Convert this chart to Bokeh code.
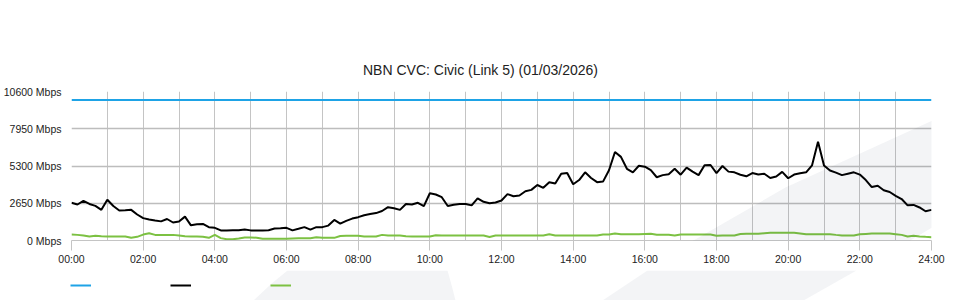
from bokeh.plotting import figure
from bokeh.layouts import column
from bokeh.models import Range1d, FixedTicker, Legend, LegendItem, PolyAnnotation, Label
from bokeh.embed import file_html
from bokeh.resources import INLINE

TITLE = "NBN CVC: Civic (Link 5) (01/03/2026)"

# time axis: hours, one sample every 10 minutes (00:00 .. 24:00)
hours = [i / 6 for i in range(145)]

x_ticks = [0, 2, 4, 6, 8, 10, 12, 14, 16, 18, 20, 22, 24]
x_tick_labels = ["00:00", "02:00", "04:00", "06:00", "08:00", "10:00", "12:00",
                 "14:00", "16:00", "18:00", "20:00", "22:00", "24:00"]
y_ticks = [0, 2650, 5300, 7950, 10600]
y_tick_labels = ["0 Mbps", "2650 Mbps", "5300 Mbps", "7950 Mbps", "10600 Mbps"]

capacity_mbps = 10000

traffic_mbps = [
    2680, 2560, 2820, 2600, 2460, 2180,   # 00
    2900, 2450, 2130, 2150, 2180, 1850,   # 01
    1590, 1490, 1420, 1360, 1530, 1280,   # 02
    1350, 1700, 1080, 1150, 1180, 950,    # 03
    900, 720, 720, 730, 730, 780,         # 04
    720, 710, 720, 730, 850, 870,         # 05
    900, 720, 830, 950, 770, 950,         # 06
    950, 1060, 1460, 1200, 1400, 1560,    # 07
    1660, 1800, 1880, 1950, 2100, 2370,   # 08
    2300, 2180, 2600, 2560, 2680, 2440,   # 09
    3360, 3270, 3080, 2450, 2550, 2600,   # 10
    2600, 2500, 3000, 2750, 2650, 2700,   # 11
    2850, 3300, 3150, 3200, 3500, 3600,   # 12
    3950, 3750, 4150, 4050, 4750, 4800,   # 13
    4000, 4300, 4850, 4450, 4150, 4190,   # 14
    5000, 6300, 5950, 5100, 4850, 5320,   # 15
    5250, 5000, 4500, 4650, 4720, 5100,   # 16
    4680, 5180, 4900, 4650, 5350, 5370,   # 17
    4800, 5300, 4900, 4850, 4680, 4570,   # 18
    4800, 4690, 4750, 4450, 4550, 4880,   # 19
    4430, 4690, 4780, 4850, 5350, 7030,   # 20
    5330, 4980, 4830, 4650, 4750, 4850,   # 21
    4690, 4300, 3800, 3900, 3580, 3450,   # 22
    3180, 2950, 2500, 2530, 2350, 2080,   # 23
    2180,                                 # 24
]

upload_mbps = [
    430, 400, 355, 290, 330, 300,         # 00
    284, 284, 284, 284, 190, 260,         # 01
    420, 520, 400, 400, 400, 400,         # 02
    360, 300, 284, 284, 260, 190,         # 03
    400, 170, 95, 95, 150, 213,           # 04
    213, 200, 118, 118, 118, 118,         # 05
    118, 150, 166, 166, 166, 230,         # 06
    189, 189, 189, 320, 331, 331,         # 07
    331, 284, 284, 284, 400, 355,         # 08
    355, 355, 300, 284, 284, 284,         # 09
    284, 378, 355, 355, 355, 355,         # 10
    355, 355, 355, 355, 250, 355,         # 11
    355, 355, 355, 355, 355, 355,         # 12
    355, 355, 440, 355, 355, 355,         # 13
    355, 355, 355, 355, 355, 426,         # 14
    426, 497, 450, 450, 450, 450,         # 15
    470, 480, 402, 402, 402, 360,         # 16
    426, 426, 426, 426, 426, 426,         # 17
    340, 355, 355, 360, 460, 473,         # 18
    473, 473, 520, 544, 544, 544,         # 19
    544, 544, 500, 450, 450, 450,         # 20
    450, 450, 400, 355, 355, 355,         # 21
    440, 470, 497, 497, 497, 497,         # 22
    450, 400, 284, 331, 284, 260,         # 23
    237,                                  # 24
]

BLUE = "#1ea3e6"
BLACK = "#000000"
GREEN = "#7cc142"
FONT = "Liberation Sans"
WM_COLOR = "#0f234b"
WM_ALPHA = 0.05


def strip(height):
    s = figure(width=960, height=height, frame_width=960, frame_height=height,
               output_backend="svg", toolbar_location=None,
               x_range=Range1d(0, 1), y_range=Range1d(0, 1),
               min_border=0, x_axis_location=None, y_axis_location=None)
    s.xgrid.visible = False
    s.ygrid.visible = False
    s.outline_line_color = None
    s.background_fill_color = "white"
    s.border_fill_color = "white"
    return s


def watermark(fig, xs, ys):
    fig.add_layout(PolyAnnotation(xs=xs, ys=ys, xs_units="canvas", ys_units="canvas",
                                  fill_color=WM_COLOR, fill_alpha=WM_ALPHA, line_alpha=0))


# ---- title strip ----
t = strip(80)
t.add_layout(Label(x=480, y=69, x_units="canvas", y_units="canvas", text=TITLE,
                   text_align="center", text_baseline="middle",
                   text_font=FONT, text_font_size="14px", text_color="#222222"))

# ---- main chart ----
p = figure(width=960, height=190, frame_width=860, frame_height=149,
           output_backend="svg", toolbar_location=None,
           x_range=Range1d(0, 24), y_range=Range1d(0, 10600),
           min_border_left=70, min_border_right=30, min_border_top=11,
           min_border_bottom=30)

p.outline_line_color = None
p.background_fill_color = "white"
p.border_fill_color = "white"

# faint decorative watermark (translucent so that text and lines show through)
watermark(p, [960, 932, 785, 693, 647, 856, 910, 960],
          [25, 40, 107, 160, 190, 190, 160, 130])
watermark(p, [287, 310, 345, 380, 415, 440, 447],
          [190, 175, 163, 160, 162, 185, 190])

# grids
p.xgrid.ticker = FixedTicker(ticks=list(range(25)))
p.xgrid.grid_line_color = "#c4c4c4"
p.xgrid.grid_line_width = 1
p.ygrid.ticker = FixedTicker(ticks=y_ticks)
p.ygrid.grid_line_color = "#bdbdbd"
p.ygrid.grid_line_width = 1.6

# x axis
p.xaxis.ticker = FixedTicker(ticks=x_ticks)
p.xaxis.major_label_overrides = {t_: l for t_, l in zip(x_ticks, x_tick_labels)}
p.xaxis.axis_line_color = "#c4c4c4"
p.xaxis.major_tick_line_color = "#c4c4c4"
p.xaxis.major_tick_out = 10
p.xaxis.major_tick_in = 0
p.xaxis.minor_tick_line_color = None
p.xaxis.major_label_standoff = 2
p.xaxis.major_label_text_font = FONT
p.xaxis.major_label_text_font_size = "10.5px"
p.xaxis.major_label_text_color = "#222222"

# y axis
p.yaxis.ticker = FixedTicker(ticks=y_ticks)
p.yaxis.major_label_overrides = {t_: l for t_, l in zip(y_ticks, y_tick_labels)}
p.yaxis.axis_line_color = None
p.yaxis.major_tick_line_color = None
p.yaxis.minor_tick_line_color = None
p.yaxis.major_tick_out = 0
p.yaxis.major_label_standoff = 10
p.yaxis.major_label_text_font = FONT
p.yaxis.major_label_text_font_size = "10.5px"
p.yaxis.major_label_text_color = "#222222"

cap_line = [capacity_mbps] * len(hours)
p.line(hours, cap_line, line_color=BLUE, line_width=2)
p.line(hours, traffic_mbps, line_color=BLACK, line_width=2)
p.line(hours, upload_mbps, line_color=GREEN, line_width=2)

# ---- legend strip (series keys only, no label text) ----
q = strip(30)
watermark(q, [602, 647, 856, 803], [30, 0, 0, 30])
watermark(q, [253, 270, 287, 447, 452, 455], [30, 14, 0, 0, 18, 30])

# same series, drawn outside this strip's visible range; used only as legend keys
k_cap = q.line(hours, cap_line, line_color=BLUE, line_width=2)
k_dn = q.line(hours, traffic_mbps, line_color=BLACK, line_width=2)
k_up = q.line(hours, upload_mbps, line_color=GREEN, line_width=2)

legend = Legend(items=[LegendItem(label=" ", renderers=[k_cap]),
                       LegendItem(label=" ", renderers=[k_dn]),
                       LegendItem(label=" ", renderers=[k_up])],
                orientation="horizontal", location="center_left",
                margin=70, padding=0, spacing=0,
                glyph_width=21, glyph_height=20, label_standoff=0, label_width=79,
                border_line_color=None, background_fill_alpha=0,
                label_text_font=FONT, label_text_font_size="10px")
q.add_layout(legend)

layout = column(t, p, q, spacing=0)
open("out.html", "w").write(file_html(layout, INLINE))
